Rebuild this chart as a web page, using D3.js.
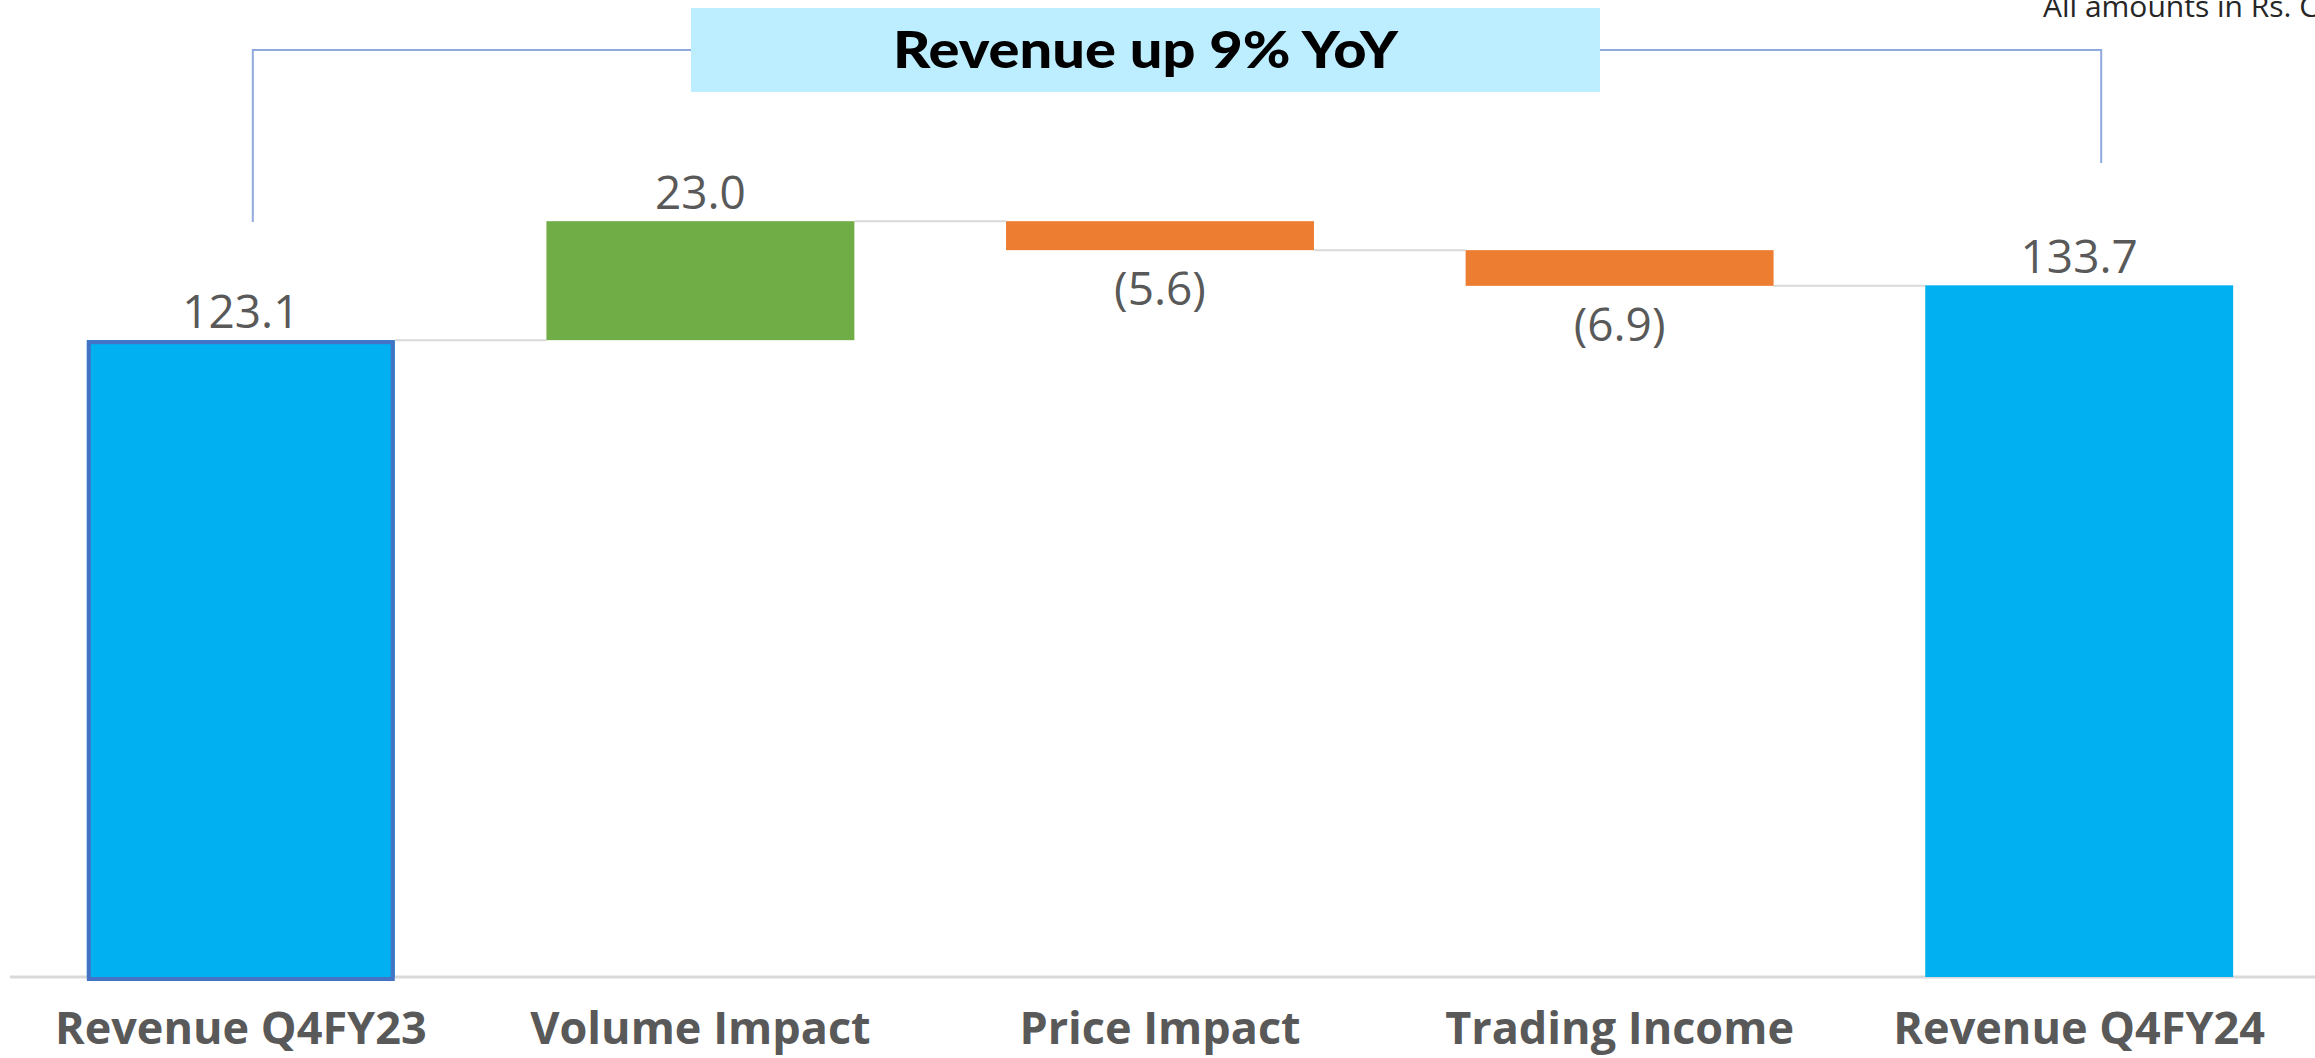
<!DOCTYPE html>
<html>
<head>
<meta charset="utf-8">
<script src="https://cdn.jsdelivr.net/npm/d3@7"></script>
<style>
  body { margin: 0; background: #fff; }
  svg { display: block; }
</style>
</head>
<body>
<svg id="chart" width="2315" height="1058"></svg>
<script>
const width = 2315,
    height = 1058

const categories = ['Revenue Q4FY23', 'Volume Impact', 'Price Impact', 'Trading Income', 'Revenue Q4FY24']
const values = [123.1, 23.0, -5.6, -6.9, 133.7]
const kinds = ['total', 'delta', 'delta', 'delta', 'total']

const blue = '#00B0F0'
const green = '#70AD47'
const orange = '#ED7D31'
const gray = '#D9D9D9'
const labelGray = '#595959'

// Running totals for the waterfall
let running = 0
const bars = categories.map((c, i) => {
    let start, end
    if (kinds[i] === 'total') {
        start = 0
        end = values[i]
        running = values[i]
    } else {
        start = running
        end = running + values[i]
        running = end
    }
    return { cat: c, value: values[i], kind: kinds[i], start: start, end: end }
})

const svg = d3.select('#chart')

const x = d3.scaleBand()
    .domain(categories)
    .range([11, 2309])
    .paddingInner(0.33)
    .paddingOuter(0.165)

const y = d3.scaleLinear()
    .domain([0, 150])
    .range([977, 201])

const color = d => d.kind === 'total' ? blue : (d.value >= 0 ? green : orange)

// Connector lines between bars
svg.append('g')
    .selectAll('line')
    .data(bars.slice(0, -1))
    .enter()
    .append('line')
    .attr('x1', d => x(d.cat) + x.bandwidth())
    .attr('x2', (d, i) => x(bars[i + 1].cat))
    .attr('y1', d => y(d.end))
    .attr('y2', d => y(d.end))
    .attr('stroke', gray)
    .attr('stroke-width', 2)

// Baseline runs the full width
svg.append('line')
    .attr('x1', 10)
    .attr('x2', width)
    .attr('y1', y(0))
    .attr('y2', y(0))
    .attr('stroke', gray)
    .attr('stroke-width', 3)

// Bars
svg.append('g')
    .selectAll('rect')
    .data(bars)
    .enter()
    .append('rect')
    .attr('x', d => x(d.cat))
    .attr('width', x.bandwidth())
    .attr('y', d => y(Math.max(d.start, d.end)))
    .attr('height', d => Math.abs(y(d.start) - y(d.end)))
    .attr('fill', color)

// First bar has a darker outline
const first = bars[0]
svg.append('rect')
    .attr('x', x(first.cat) + 2)
    .attr('y', y(first.end) + 2)
    .attr('width', x.bandwidth() - 4)
    .attr('height', y(0) - y(first.end))
    .attr('fill', 'none')
    .attr('stroke', '#4472C4')
    .attr('stroke-width', 4)

// Axis with category labels
const xAxis = d3.axisBottom(x)
    .tickSize(0)
    .tickPadding(35)

const g = svg.append('g')
    .attr('transform', `translate(0, ${y(0)})`)
    .call(xAxis)
g.select('path.domain').remove()
g.selectAll('.tick text')
    .attr('fill', labelGray)
    .style('font-family', '"Open Sans", sans-serif')
    .style('font-weight', 'bold')
    .style('font-size', '45px')

// Value labels
const fmt = v => v < 0 ? `(${Math.abs(v).toFixed(1)})` : v.toFixed(1)
svg.append('g')
    .selectAll('text')
    .data(bars)
    .enter()
    .append('text')
    .attr('x', d => x(d.cat) + x.bandwidth() / 2)
    .attr('y', d => d.value >= 0
        ? y(Math.max(d.start, d.end)) - 12
        : y(Math.min(d.start, d.end)) + 55)
    .attr('text-anchor', 'middle')
    .attr('fill', labelGray)
    .style('font-family', '"Open Sans", sans-serif')
    .style('font-size', '46px')
    .text(d => fmt(d.value))

// Bracket above the chart
const leftX = x(categories[0]) + x.bandwidth() / 2 + 12
const rightX = x(categories[4]) + x.bandwidth() / 2 + 22
const boxLeft = 691, boxRight = 1600, bracketY = 50
svg.append('path')
    .attr('d', `M ${leftX} 222 L ${leftX} ${bracketY} L ${boxLeft} ${bracketY}`)
    .attr('fill', 'none')
    .attr('stroke', '#8FAADC')
    .attr('stroke-width', 2)
svg.append('path')
    .attr('d', `M ${boxRight} ${bracketY} L ${rightX} ${bracketY} L ${rightX} 163`)
    .attr('fill', 'none')
    .attr('stroke', '#8FAADC')
    .attr('stroke-width', 2)

// Title box
svg.append('rect')
    .attr('x', boxLeft)
    .attr('y', 8)
    .attr('width', boxRight - boxLeft)
    .attr('height', 84)
    .attr('fill', '#BDEEFF')
svg.append('text')
    .attr('x', (boxLeft + boxRight) / 2)
    .attr('y', 68)
    .attr('text-anchor', 'middle')
    .attr('fill', '#000')
    .attr('textLength', 505)
    .attr('lengthAdjust', 'spacingAndGlyphs')
    .style('font-family', 'Lato, sans-serif')
    .style('font-weight', 900)
    .style('font-size', '51px')
    .text('Revenue up 9% YoY')

// Units note, runs off the right edge as in the source
svg.append('text')
    .attr('x', 2043)
    .attr('y', 17)
    .attr('fill', '#262626')
    .style('font-family', '"Open Sans", sans-serif')
    .style('font-size', '30px')
    .text('All amounts in Rs. Cr')
</script>
</body>
</html>
